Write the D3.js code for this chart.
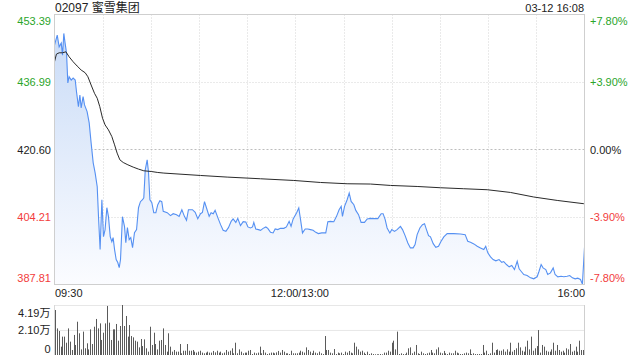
<!DOCTYPE html>
<html>
<head>
<meta charset="utf-8">
<script src="https://cdn.jsdelivr.net/npm/d3@7"></script>
<style>
  body { margin: 0; background: #fff; }
  svg text { font-family: Arial, "Liberation Sans", "Noto Sans CJK SC", sans-serif; }
</style>
</head>
<body>
<div id="chart"></div>
<script>
// header texts
var title = "02097 蜜雪集团";
var stamp = "03-12 16:08";

// axis values
var preClose = 420.60;
var priceTicks = [453.39, 436.99, 420.60, 404.21, 387.81];
var pctTicks = ["+7.80%", "+3.90%", "0.00%", "-3.90%", "-7.80%"];
var timeTicks = [0, 150, 330];
var timeLabels = ["09:30", "12:00/13:00", "16:00"];
var volTicks = [4.19, 2.10, 0];
var volLabels = ["4.19万", "2.10万", "0"];

// price line: trading minutes since 09:30 (lunch removed) and price
var priceTimes = [0,1.7,2.9,4.2,5.0,5.8,6.6,7.5,8.3,9.1,10.4,11.6,12.9,13.7,14.9,15.8,16.6,17.8,18.7,20.3,
  21.6,22.8,24.1,25.3,26.6,27.4,28.4,29.5,30.5,31.5,32.6,33.6,34.7,35.7,36.5,37.4,38.4,39.4,40.3,41.1,
  42.3,43.6,44.4,45.4,46.5,47.5,48.6,49.8,51.1,52.3,53.5,54.8,55.6,56.5,57.7,58.5,59.4,60.6,61.8,63.1,
  64.3,65.6,66.8,67.7,70.2,72.2,73.9,76.0,77.6,79.3,80.9,82.2,83.4,85.9,87.6,89.2,90.9,92.1,93.4,94.6,
  96.3,97.5,98.8,100.0,101.7,103.4,105.0,106.7,108.3,110.0,111.2,112.9,114.1,115.8,117.5,119.1,120.4,122.0,123.3,124.1,
  125.3,127.0,128.3,129.9,131.6,132.8,134.5,136.1,137.4,139.0,140.7,142.8,144.4,146.1,147.3,148.6,150.7,152.1,153.2,154.4,
  156.1,157.7,159.4,161.0,162.7,164.3,166.4,168.9,170.2,171.8,173.9,175.6,177.2,178.5,179.3,180.6,182.2,183.5,184.7,186.4,
  187.6,189.3,190.9,193.0,194.7,196.7,198.8,201.3,203.4,204.6,205.9,207.1,208.8,210.0,211.7,213.3,215.4,216.7,218.3,220.0,
  221.6,223.3,224.5,225.8,227.5,229.1,230.4,231.6,232.9,234.1,235.8,237.4,239.1,240.7,242.4,244.5,248.6,252.8,255.7,257.3,
  259.0,261.1,263.2,265.2,267.3,268.5,269.8,271.5,273.1,274.8,276.8,278.5,279.7,281.4,283.1,284.7,286.4,288.1,289.3,290.5,
  292.2,294.3,296.4,298.4,300.5,301.7,303.0,304.2,305.9,307.1,308.8,310.5,311.7,313.4,315.4,317.1,319.2,320.8,322.5,324.2,
  325.8,327.5,328.7,330];
var prices = [445.95,448.38,445.54,446.44,443.53,448.79,446.44,444.01,436.75,438.27,437.47,437.96,437.47,434.64,431.01,433.84,430.69,433.43,431.42,429.79,
  427.06,422.21,417.37,414.94,411.55,404.28,396.29,408.40,399.44,401.14,406.46,404.28,399.44,398.23,399.20,396.29,393.87,393.14,391.93,393.87,
  404.28,401.86,397.99,401.62,398.71,399.20,396.77,400.41,401.14,406.46,407.92,408.40,408.89,415.67,418.09,415.19,408.40,407.68,405.25,405.25,
  407.19,408.16,407.92,405.57,405.25,404.53,405.01,404.77,404.36,405.98,404.36,403.39,405.98,405.98,405.33,403.80,405.01,405.33,407.92,406.46,
  404.36,405.25,405.01,405.81,404.04,402.35,400.97,400.72,401.62,403.15,403.73,402.90,403.87,402.10,403.07,403.00,401.79,401.55,401.79,402.90,
  401.30,401.14,400.97,401.45,401.79,401.45,400.48,400.34,401.30,401.14,401.45,401.45,401.79,403.15,401.93,403.73,405.18,406.39,403.56,400.34,
  401.30,401.30,401.14,400.97,400.48,400.17,400.34,400.34,403.07,403.15,403.07,404.36,405.98,406.78,404.36,406.78,408.40,410.03,407.99,407.19,
  405.81,404.77,402.90,402.90,403.73,403.87,403.80,403.80,405.01,405.01,403.56,401.55,400.34,401.14,400.72,401.14,401.93,401.14,399.68,397.91,
  396.70,396.70,397.50,399.92,401.55,402.35,402.59,401.14,399.68,399.37,397.74,396.85,397.09,398.30,399.37,400.17,400.17,400.09,399.92,398.30,
  398.06,397.67,397.09,396.70,396.29,397.09,395.49,394.52,393.87,393.55,393.87,393.21,393.38,392.66,392.10,392.42,391.44,393.45,391.61,391.03,
  390.23,389.99,389.43,389.19,389.68,391.03,392.66,391.85,391.44,390.23,390.64,391.85,390.23,389.68,389.82,389.68,389.82,389.99,389.43,389.19,
  389.34,389.02,387.90,396.80];

// average price line
var avgTimes = [0,1.2,2.9,5.0,7.1,9.1,11.6,14.1,16.6,19.1,20.8,22.8,24.9,26.6,28.2,29.9,31.5,33.6,35.7,37.4,
  39.0,40.7,42.8,45.7,49.0,52.3,55.6,60.2,64.3,68.1,90.9,107.5,128.3,149.0,165.6,182.2,196.7,209.2,225.8,240.3,
  254.8,269.4,283.9,298.4,313.0,329.6];
var avgPrices = [441.91,443.77,444.09,444.09,444.33,443.12,441.91,440.87,439.90,439.24,438.27,436.26,434.25,433.04,431.01,428.20,426.57,425.36,423.74,421.73,
  419.72,418.09,417.44,416.88,416.32,415.84,415.43,415.26,415.02,414.87,414.29,413.90,413.49,413.08,412.59,412.28,412.21,411.87,411.62,411.31,
  411.07,410.83,410.17,409.06,408.23,407.43];

// volume bars, in 万
var volumes = [3.77,2.23,2.01,0.70,1.54,1.54,1.03,2.23,1.12,0.42,1.68,0.84,2.79,1.82,0.47,1.96,0.56,0.98,0.47,2.15,
  0.92,2.37,3.02,2.23,2.65,1.26,1.87,2.65,4.11,2.71,1.26,2.15,2.15,2.60,1.20,2.43,4.19,2.43,3.27,1.54,
  2.51,1.59,1.48,1.20,1.12,0.64,1.34,0.75,1.31,0.56,0.28,2.37,0.84,1.87,0.92,0.47,1.20,1.26,2.23,0.84,
  0.28,1.82,0.70,0.28,0.42,0.28,0.28,0.92,0.14,0.36,0.36,0.92,0.36,0.36,0.42,0.28,0.20,0.28,0.36,0.20,
  0.14,0.20,0.28,0.20,0.20,0.34,0.22,0.36,0.20,0.28,0.14,0.20,0.42,0.28,0.36,0.56,0.14,1.03,0.14,0.47,
  0.28,0.14,0.20,0.20,0.36,0.42,0.08,0.20,0.14,0.20,0.70,0.14,0.42,0.20,0.08,0.14,0.20,0.20,0.14,0.22,
  0.34,0.20,0.42,0.28,0.14,0.14,0.08,0.36,0.14,0.14,0.14,0.20,0.36,0.28,0.20,0.64,0.42,0.28,0.14,0.36,
  0.20,0.14,0.28,0.14,0.08,1.59,0.42,0.42,0.20,0.14,0.50,0.08,0.20,0.14,0.20,0.08,0.28,0.20,0.34,0.20,
  0.14,1.03,0.70,0.47,0.28,0.36,0.20,0.08,0.28,0.08,0.14,0.08,0.06,0.06,0.06,0.08,0.06,0.20,0.20,0.36,
  0.28,1.03,1.20,0.47,1.96,0.08,0.14,0.08,0.06,0.20,0.56,0.64,0.14,0.28,0.84,
  0.14,0.08,0.28,0.14,0.08,0.14,0.20,0.42,0.20,0.14,0.47,0.64,0.20,0.14,0.34,0.14,0.08,0.20,0.14,0.14,
  0.36,0.20,0.14,0.08,0.08,0.14,0.20,0.14,0.47,0.08,0.14,0.08,0.08,0.08,0.08,0.84,0.20,0.36,0.08,0.14,
  1.03,0.20,0.42,0.47,0.36,0.36,0.47,0.28,0.47,0.28,1.03,0.28,0.42,0.56,1.03,0.64,0.36,0.28,0.70,1.20,
  0.47,1.54,0.36,0.56,0.75,2.09,0.20,0.84,0.70,0.36,0.28,0.28,0.47,1.03,0.36,0.84,0.42,0.28,0.36,0.20,
  0.56,0.47,0.92,0.28,0.36,0.70,0.28,1.20,0.42,0.42];

var green = "#2aa52a", red = "#f23c3c", ink = "#222";

function tickColor(d) {
    if (d > preClose + 0.001) return green;
    if (d < preClose - 0.001) return red;
    return ink;
}

var svg = d3.select("#chart").append("svg")
    .attr("width", 640)
    .attr("height", 360);

// scales
var x = d3.scaleLinear().domain([0, 330]).range([54.5, 584.5]);
var y = d3.scaleLinear().domain([387.81, 453.39]).range([284.5, 14.5]);
var yv = d3.scaleLinear().domain([0, 4.19]).range([355, 305]);
var xv = d3.scaleLinear().domain([0, volumes.length - 1]).range([55, 583]);

// gradient for the area under the price line
var grad = svg.append("defs").append("linearGradient")
    .attr("id", "fillGrad")
    .attr("x1", 0).attr("y1", 0).attr("x2", 0).attr("y2", 1);
grad.append("stop").attr("offset", "0%").attr("stop-color", "#cadcf7");
grad.append("stop").attr("offset", "100%").attr("stop-color", "#fbfcff");

// grid lines of the price panel
var grid = svg.append("g");
grid.selectAll(".vgrid")
    .data(d3.range(30, 330, 30))
    .enter().append("line")
    .attr("x1", function (d) { return Math.round(x(d)) + 0.5; })
    .attr("x2", function (d) { return Math.round(x(d)) + 0.5; })
    .attr("y1", y.range()[1])
    .attr("y2", y.range()[0])
    .style("stroke", "#d4d4d4")
    .style("stroke-dasharray", "1,2");
grid.selectAll(".hgrid")
    .data(priceTicks.slice(1, 4))
    .enter().append("line")
    .attr("x1", x.range()[0])
    .attr("x2", x.range()[1])
    .attr("y1", function (d) { return Math.round(y(d)) + 0.5; })
    .attr("y2", function (d) { return Math.round(y(d)) + 0.5; })
    .style("stroke", function (d) { return d == preClose ? "#bdbdbd" : "#d4d4d4"; })
    .style("stroke-dasharray", function (d) { return d == preClose ? "2,2" : "1,2"; });

// watermark
svg.append("text")
    .attr("x", 528).attr("y", 283)
    .style("font-size", "11px")
    .style("fill", "#e6e6e6")
    .text("sina.com");

// area + price line
var area = d3.area()
    .x(function (d) { return x(d[0]); })
    .y0(y.range()[0])
    .y1(function (d) { return y(d[1]); });
var line = d3.line()
    .x(function (d) { return x(d[0]); })
    .y(function (d) { return y(d[1]); });
var pricePts = priceTimes.map(function (t, i) { return [t, prices[i]]; });
var avgPts = avgTimes.map(function (t, i) { return [t, avgPrices[i]]; });

svg.append("path")
    .datum(pricePts)
    .attr("d", area)
    .style("fill", "url(#fillGrad)");
svg.append("path")
    .datum(pricePts)
    .attr("d", line)
    .style("fill", "none")
    .style("stroke", "#5590f2")
    .style("stroke-width", 1.1);
svg.append("path")
    .datum(avgPts)
    .attr("d", line)
    .style("fill", "none")
    .style("stroke", "#2a2a2a")
    .style("stroke-width", 1);

// frame of the price panel
svg.append("rect")
    .attr("x", x.range()[0]).attr("y", y.range()[1])
    .attr("width", x.range()[1] - x.range()[0])
    .attr("height", y.range()[0] - y.range()[1])
    .style("fill", "none")
    .style("stroke", "#cfcfcf");

// left price labels
var leftAxis = svg.append("g")
    .attr("transform", "translate(" + x.range()[0] + ",0)")
    .call(d3.axisLeft(y).tickValues(priceTicks).tickSize(0).tickPadding(3.5)
        .tickFormat(function (d) { return d.toFixed(2); }));
leftAxis.select(".domain").remove();
leftAxis.selectAll("text")
    .style("font-size", "11px")
    .style("fill", function (d) { return tickColor(d); })
    .attr("dy", function (d, i) { return i == 0 ? "0.95em" : (i == priceTicks.length - 1 ? "-0.25em" : "0.35em"); });

// right percent labels
var rightAxis = svg.append("g")
    .attr("transform", "translate(" + x.range()[1] + ",0)")
    .call(d3.axisRight(y).tickValues(priceTicks).tickSize(0).tickPadding(5.5)
        .tickFormat(function (d, i) { return pctTicks[i]; }));
rightAxis.select(".domain").remove();
rightAxis.selectAll("text")
    .style("font-size", "11px")
    .style("fill", function (d) { return tickColor(d); })
    .attr("dy", function (d, i) { return i == 0 ? "0.95em" : (i == priceTicks.length - 1 ? "-0.25em" : "0.35em"); });

// time labels
var timeAxis = svg.append("g")
    .attr("transform", "translate(0," + y.range()[0] + ")")
    .call(d3.axisBottom(x).tickValues(timeTicks).tickSize(0).tickPadding(5)
        .tickFormat(function (d, i) { return timeLabels[i]; }));
timeAxis.select(".domain").remove();
timeAxis.selectAll("text")
    .style("font-size", "11px")
    .style("fill", ink)
    .attr("text-anchor", function (d, i) { return i == 0 ? "start" : (i == timeTicks.length - 1 ? "end" : "middle"); })
    .attr("dx", function (d, i) { return i == 1 ? 4 : 0; });

// header
svg.append("text")
    .attr("x", 55).attr("y", 12)
    .style("font-size", "12px")
    .style("fill", ink)
    .text(title);
svg.append("text")
    .attr("x", 584).attr("y", 12)
    .attr("text-anchor", "end")
    .style("font-size", "11px")
    .style("fill", ink)
    .text(stamp);

// volume panel
var vol = svg.append("g");
vol.selectAll(".vline")
    .data(volTicks.slice(0, 2))
    .enter().append("line")
    .attr("x1", x.range()[0]).attr("x2", x.range()[1])
    .attr("y1", function (d) { return yv(d) + 0.5; })
    .attr("y2", function (d) { return yv(d) + 0.5; })
    .style("stroke", "#cfcfcf")
    .style("stroke-dasharray", "1,1");
vol.append("line")
    .attr("x1", x.range()[0]).attr("x2", x.range()[0])
    .attr("y1", yv(4.19)).attr("y2", yv(0))
    .style("stroke", "#d8d8d8");
vol.append("line")
    .attr("x1", x.range()[1]).attr("x2", x.range()[1])
    .attr("y1", yv(4.19)).attr("y2", yv(0))
    .style("stroke", "#cfcfcf");

vol.selectAll(".bar")
    .data(volumes)
    .enter().append("rect")
    .attr("class", "bar")
    .attr("x", function (d, i) { return Math.round(xv(i)); })
    .attr("y", function (d) { return yv(d); })
    .attr("width", 1)
    .attr("height", function (d) { return yv(0) - yv(d); })
    .style("fill", "#5a5a5a");

var volAxis = svg.append("g")
    .attr("transform", "translate(" + x.range()[0] + ",0)")
    .call(d3.axisLeft(yv).tickValues(volTicks).tickSize(0).tickPadding(4)
        .tickFormat(function (d, i) { return volLabels[i]; }));
volAxis.select(".domain").remove();
volAxis.selectAll("text")
    .style("font-size", "11px")
    .style("fill", ink)
    .attr("dy", function (d, i) { return i == 0 ? "1em" : (i == volTicks.length - 1 ? "-0.25em" : "0.35em"); });
</script>
</body>
</html>
